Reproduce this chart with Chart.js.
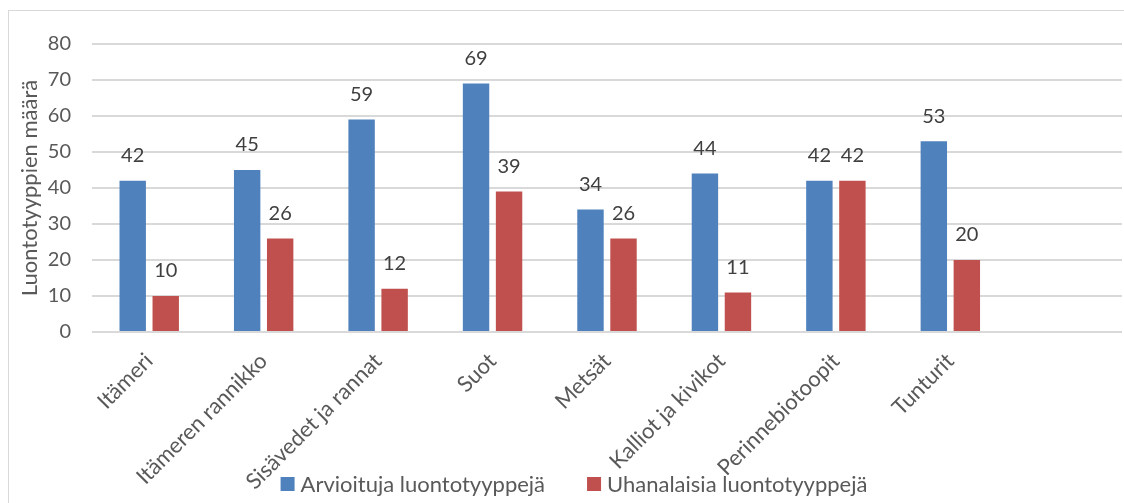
<!DOCTYPE html>
<html>
<head>
<meta charset="utf-8">
<script src="https://cdn.jsdelivr.net/npm/chart.js@4"></script>
<style>
  html, body { margin: 0; padding: 0; background: #fff; overflow: hidden; }
  #wrap { position: absolute; left: 8px; top: 10px; width: 1130px; height: 492px; border: 1px solid #d9d9d9; }
</style>
</head>
<body>
<div id="wrap"><canvas id="chart"></canvas></div>
<script>
const categories = ['Itämeri', 'Itämeren rannikko', 'Sisävedet ja rannat', 'Suot', 'Metsät', 'Kalliot ja kivikot', 'Perinnebiotoopit', 'Tunturit', ''];
const arvioituja = [42, 45, 59, 69, 34, 44, 42, 53, null];
const uhanalaisia = [10, 26, 12, 39, 26, 11, 42, 20, null];
const seriesNames = ['Arvioituja luontotyyppejä', 'Uhanalaisia luontotyyppejä'];
const yTitle = 'Luontotyyppien määrä';

const FONT = 'Lato, "Open Sans", sans-serif';
Chart.defaults.font.family = FONT;
Chart.defaults.font.size = 20;
Chart.defaults.color = '#595959';

// value labels above the bars
const barLabels = {
  id: 'barLabels',
  afterDatasetsDraw(chart) {
    const ctx = chart.ctx;
    ctx.save();
    ctx.font = '20px ' + FONT;
    ctx.fillStyle = '#404040';
    ctx.textAlign = 'center';
    ctx.textBaseline = 'middle';
    chart.data.datasets.forEach((ds, i) => {
      chart.getDatasetMeta(i).data.forEach((bar, j) => {
        if (ds.data[j] == null) return;
        ctx.fillText(ds.data[j], bar.x, bar.y - 25);
      });
    });
    ctx.restore();
  }
};

// legend drawn at the bottom, overlapping the long axis labels like the original
const bottomLegend = {
  id: 'bottomLegend',
  afterDraw(chart) {
    const ctx = chart.ctx;
    ctx.save();
    ctx.font = '22px ' + FONT;
    const box = 14, gapText = 6, gapItem = 42;
    const items = chart.data.datasets.map(ds => ({ text: ds.label, color: ds.backgroundColor, w: ctx.measureText(ds.label).width }));
    let total = items.reduce((s, it) => s + box + gapText + it.w, 0) + gapItem * (items.length - 1);
    let x = chart.width / 2 - total / 2;
    const y = 473;
    ctx.textBaseline = 'middle';
    items.forEach(it => {
      ctx.fillStyle = it.color;
      ctx.fillRect(x, y - box / 2, box, box);
      x += box + gapText;
      ctx.fillStyle = '#595959';
      ctx.fillText(it.text, x, y + 1);
      x += it.w + gapItem;
    });
    ctx.restore();
  }
};

new Chart(document.getElementById('chart'), {
  type: 'bar',
  data: {
    labels: categories,
    datasets: [
      { label: seriesNames[0], data: arvioituja, backgroundColor: '#4F81BD' },
      { label: seriesNames[1], data: uhanalaisia, backgroundColor: '#C0504D' }
    ]
  },
  options: {
    responsive: true,
    maintainAspectRatio: false,
    animation: false,
    datasets: { bar: { categoryPercentage: 0.577, barPercentage: 0.8 } },
    layout: { padding: { top: 24, right: 17, bottom: 0, left: 0 } },
    plugins: { legend: { display: false }, tooltip: { enabled: false } },
    scales: {
      x: {
        grid: { display: false },
        border: { display: false },
        ticks: { color: '#595959', font: { family: FONT, size: 22 }, minRotation: 45, maxRotation: 45, padding: 8, autoSkip: false },
        afterFit(scale) { scale.height = 171; }
      },
      y: {
        min: 0, max: 80,
        grid: { color: '#d9d9d9', lineWidth: 2, drawTicks: false },
        border: { display: false },
        ticks: { stepSize: 10, color: '#595959', font: { family: FONT, size: 20 }, padding: 21 },
        title: { display: true, text: yTitle, color: '#595959', font: { family: FONT, size: 22 }, padding: { top: 8, bottom: 0 } },
        afterFit(scale) { scale.width = 83; }
      }
    }
  },
  plugins: [barLabels, bottomLegend]
});
</script>
</body>
</html>
